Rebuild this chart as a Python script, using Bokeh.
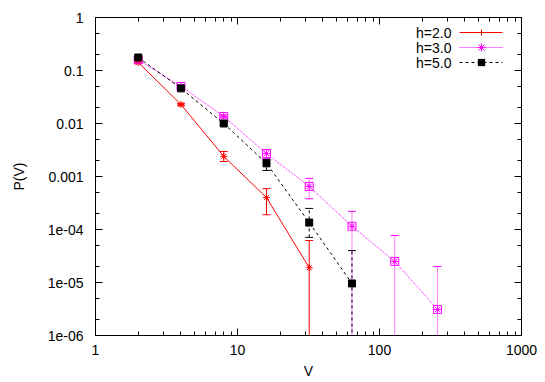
from bokeh.plotting import figure
from bokeh.models import (LogAxis, FixedTicker, CustomJSTickFormatter, Label, Arrow,
                          BoxAnnotation, ColumnDataSource, CustomLabelingPolicy)
from bokeh.embed import file_html
from bokeh.resources import INLINE

# ---------------- data ----------------
h2_x = [2, 4, 8, 16, 32]
h2_p = [0.142, 0.0228, 0.0024, 4.0e-4, 1.9e-5]
h2_hi = [0.150, 0.0240, 0.00296, 5.9e-4, 6.2e-5]
h2_lo = [0.134, 0.0216, 0.00192, 1.9e-4, 1e-9]

h3_x = [2, 4, 8, 16, 32, 64, 128, 256]
h3_p = [0.160, 0.050, 0.0136, 0.0027, 6.5e-4, 1.15e-4, 2.5e-5, 3.1e-6]
h3_hi = [0.165, 0.052, 0.0145, 0.0032, 9.2e-4, 2.2e-4, 7.7e-5, 2.0e-5]
h3_lo = [0.155, 0.048, 0.0127, 0.0022, 3.8e-4, 1e-9, 1e-9, 1e-9]

h5_x = [2, 4, 8, 16, 32, 64]
h5_p = [0.176, 0.046, 0.0100, 0.00177, 1.35e-4, 9.6e-6]
h5_hi = [0.182, 0.048, 0.0106, 0.0021, 2.5e-4, 4.0e-5]
h5_lo = [0.170, 0.044, 0.0094, 0.0013, 7.1e-5, 1e-9]

series_labels = ["h=2.0", "h=3.0", "h=5.0"]
x_tick_values = [1, 10, 100, 1000]
x_tick_labels = ["1", "10", "100", "1000"]
y_tick_values = [1, 0.1, 0.01, 0.001, 1e-4, 1e-5, 1e-6]
y_tick_labels = ["1", "0.1", "0.01", "0.001", "1e-04", "1e-05", "1e-06"]

FONT = "Liberation Sans"
FS = "14px"

p = figure(width=545, height=382, x_axis_type="log", y_axis_type="log",
           x_range=(1, 1000), y_range=(1e-6, 1),
           output_backend="svg", toolbar_location=None,
           min_border_left=95, min_border_right=24, min_border_top=17, min_border_bottom=47)
p.grid.visible = False
p.outline_line_color = "black"
p.background_fill_color = "white"
p.border_fill_color = "white"

x_minor = [m * 10 ** d for d in range(3) for m in range(2, 10)]
y_minor = [m * 10.0 ** d for d in range(-6, 0) for m in (2, 5)]

def style_axis(ax):
    ax.major_tick_in = 7
    ax.major_tick_out = 0
    ax.minor_tick_in = 4
    ax.minor_tick_out = 0
    ax.axis_line_color = "black"
    ax.major_tick_line_color = "black"
    ax.minor_tick_line_color = "black"
    ax.major_label_text_font = FONT
    ax.major_label_text_font_size = FS
    ax.major_label_text_color = "black"
    ax.axis_label_text_font = FONT
    ax.axis_label_text_font_size = FS
    ax.axis_label_text_font_style = "normal"
    ax.axis_label_text_color = "black"

xfmt = CustomJSTickFormatter(args=dict(labels=x_tick_labels),
                             code="return labels[Math.round(Math.log10(tick))];")
yfmt = CustomJSTickFormatter(args=dict(labels=y_tick_labels),
                             code="return labels[-Math.round(Math.log10(tick))];")
blank = CustomJSTickFormatter(code="return '';")
no_labels = CustomLabelingPolicy(code="return new Set();")

p.xaxis.ticker = FixedTicker(ticks=x_tick_values, minor_ticks=x_minor)
p.xaxis.formatter = xfmt
p.yaxis.ticker = FixedTicker(ticks=y_tick_values, minor_ticks=y_minor)
p.yaxis.formatter = yfmt
style_axis(p.xaxis[0])
style_axis(p.yaxis[0])
p.xaxis.axis_label = "V"
p.yaxis.axis_label = "P(V)"
p.xaxis.major_label_standoff = 9
p.yaxis.major_label_standoff = 12
p.xaxis.axis_label_standoff = 5
p.yaxis.axis_label_standoff = 18

top = LogAxis(ticker=FixedTicker(ticks=x_tick_values, minor_ticks=x_minor),
              formatter=blank, major_label_policy=no_labels)
right = LogAxis(ticker=FixedTicker(ticks=y_tick_values, minor_ticks=y_minor),
                formatter=blank, major_label_policy=no_labels)
style_axis(top)
style_axis(right)
top.major_label_standoff = 0
right.major_label_standoff = 0
p.add_layout(top, "above")
p.add_layout(right, "right")

def draw(xs, ys, hi, lo, color, dash):
    src = ColumnDataSource(dict(x=xs, y=ys, hi=hi, lo=lo))
    p.line("x", "y", source=src, line_color=color, line_dash=dash, line_width=1)
    p.segment(x0="x", y0="lo", x1="x", y1="hi", source=src, line_color=color,
              line_dash=dash, line_width=1)
    p.scatter("x", "hi", source=src, marker="dash", size=8, line_color=color, line_width=1)
    p.scatter("x", "lo", source=src, marker="dash", size=8, line_color=color, line_width=1)
    return src

RED, MAG, BLK = "#ff0000", "#ff00ff", "#000000"
MAG_DASH = "1 1"
BLK_DASH = "3 3"

s2 = draw(h2_x, h2_p, h2_hi, h2_lo, RED, "solid")
p.scatter("x", "y", source=s2, marker="asterisk", size=7, line_color=RED)
s3 = draw(h3_x, h3_p, h3_hi, h3_lo, MAG, MAG_DASH)
p.scatter("x", "y", source=s3, marker="square", size=8, fill_color=None, line_color=MAG)
p.scatter("x", "y", source=s3, marker="asterisk", size=7, line_color=MAG)
s5 = draw(h5_x, h5_p, h5_hi, h5_lo, BLK, BLK_DASH)
p.scatter("x", "y", source=s5, marker="square", size=7, fill_color=BLK, line_color=BLK)

# ---------------- manual gnuplot-style legend (screen units, frame-relative) ----------------
leg_y = [303, 288, 273]
leg_colors = [RED, MAG, BLK]
leg_dash = ["solid", MAG_DASH, BLK_DASH]
tx, lx0, lx1, mx = 356, 364, 407, 386

def seg(x0, y0, x1, y1, color, dash="solid"):
    p.add_layout(Arrow(end=None, x_start=x0, y_start=y0, x_end=x1, y_end=y1,
                       start_units="screen", end_units="screen",
                       line_color=color, line_dash=dash, line_width=1))

for lab, y, c, d in zip(series_labels, leg_y, leg_colors, leg_dash):
    p.add_layout(Label(x=tx, y=y, x_units="screen", y_units="screen", text=lab,
                       text_align="right", text_baseline="middle",
                       text_font=FONT, text_font_size=FS, text_color="black"))
    seg(lx0, y, lx1, y, c, d)

seg(mx, leg_y[0] - 3, mx, leg_y[0] + 3, leg_colors[0])
y = leg_y[1]
seg(mx - 4, y, mx + 4, y, leg_colors[1])
seg(mx, y - 4, mx, y + 4, leg_colors[1])
seg(mx - 3, y - 3, mx + 3, y + 3, leg_colors[1])
seg(mx - 3, y + 3, mx + 3, y - 3, leg_colors[1])
y = leg_y[2]
p.add_layout(BoxAnnotation(left=mx - 3.5, right=mx + 3.5, bottom=y - 3.5, top=y + 3.5,
                           left_units="screen", right_units="screen",
                           bottom_units="screen", top_units="screen",
                           fill_color=BLK, fill_alpha=1, line_color=BLK))

open("out.html", "w").write(file_html(p, INLINE))
